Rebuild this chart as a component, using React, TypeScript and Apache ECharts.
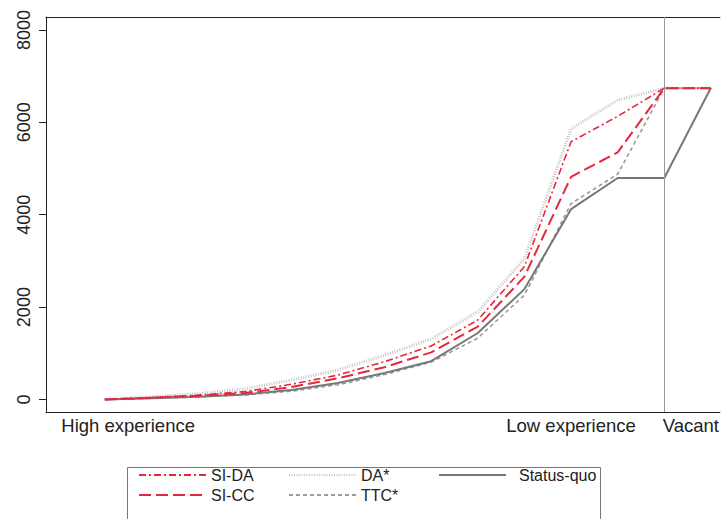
import React, { useEffect, useRef } from "react";
import * as echarts from "echarts";

const positions = [1, 2, 3, 4, 5, 6, 7, 8, 9, 10, 11, 12, 13, 14];
const siDA = [0, 45, 95, 170, 330, 530, 820, 1160, 1720, 2880, 5580, 6130, 6740, 6740];
const siCC = [0, 40, 80, 140, 270, 460, 700, 1020, 1580, 2660, 4820, 5350, 6740, 6740];
const daStar = [0, 60, 130, 230, 420, 640, 960, 1310, 1900, 3050, 5860, 6480, 6740, 6740];
const ttcStar = [0, 25, 55, 100, 180, 320, 540, 810, 1330, 2260, 4240, 4880, 6740, 6740];
const statusQuo = [0, 30, 60, 110, 205, 357, 573, 830, 1440, 2390, 4120, 4795, 4795, 6750];
const vacantLine = 13;
const xTickValues = [1.5, 11, 13.57];
const xTickLabels = ["High experience", "Low experience", "Vacant"];
const yTickValues = [0, 2000, 4000, 6000, 8000];

const FONT = "'Liberation Sans', Arial, Helvetica, sans-serif";
const RED = "#e5283a";
const X_MIN = -0.2615;
const X_MAX = 14.192;

function pairs(vals: number[]) {
  return positions.map((p, i) => [p, vals[i]]);
}

export default function App() {
  const ref = useRef<HTMLDivElement>(null);
  useEffect(() => {
    if (!ref.current) return;
    const chart = echarts.init(ref.current, null, { renderer: "svg" });
    const base = { type: "line", symbol: "none", showSymbol: false, silent: true };
    const legendCommon = {
      orient: "vertical",
      top: 462,
      itemWidth: 67,
      itemHeight: 14,
      itemGap: 4,
      itemStyle: { opacity: 0 },
      textStyle: { fontFamily: FONT, fontSize: 16, color: "#222" },
    };
    chart.setOption({
      animation: false,
      backgroundColor: "#ffffff",
      grid: {
        left: 46,
        top: 17,
        right: 0,
        height: 395,
        show: false,
      },
      xAxis: [
        {
          type: "value",
          min: X_MIN,
          max: X_MAX,
          axisLine: { show: true, onZero: false, lineStyle: { color: "#222", width: 1 } },
          axisTick: { show: false },
          splitLine: { show: false },
          axisLabel: {
            customValues: xTickValues,
            formatter: (v: number) => {
              const i = xTickValues.findIndex((t) => Math.abs(t - v) < 1e-6);
              return i >= 0 ? xTickLabels[i] : "";
            },
            fontFamily: FONT,
            fontSize: 18.5,
            color: "#222",
            margin: 4,
          },
        },
        {
          type: "value",
          position: "top",
          min: X_MIN,
          max: X_MAX,
          axisLine: { show: true, onZero: false, lineStyle: { color: "#222", width: 1 } },
          axisTick: { show: false },
          axisLabel: { show: false },
          splitLine: { show: false },
        },
      ],
      yAxis: {
        type: "value",
        min: -270,
        max: 8280,
        axisLine: { show: true, onZero: false, lineStyle: { color: "#222", width: 1 } },
        axisTick: { show: true, length: 7, customValues: yTickValues, lineStyle: { color: "#222" } },
        splitLine: { show: false },
        axisLabel: {
          customValues: yTickValues,
          formatter: (v: number) => String(v),
          rotate: 90,
          fontFamily: FONT,
          fontSize: 18,
          color: "#222",
          margin: 13,
        },
      },
      legend: [
        { ...legendCommon, left: 133, data: ["SI-DA", "SI-CC"] },
        { ...legendCommon, left: 283, data: ["DA*", "TTC*"] },
        { ...legendCommon, left: 433, textStyle: { ...legendCommon.textStyle, padding: [0, 0, 0, 8] }, data: ["Status-quo"] },
      ],
      graphic: [
        {
          type: "rect",
          left: 125,
          top: 465,
          shape: { width: 473, height: 70 },
          style: { fill: "none", stroke: "#777", lineWidth: 1 },
          silent: true,
        },
      ],
      series: [
        {
          ...base,
          name: "DA*",
          data: pairs(daStar),
          lineStyle: { color: "#c4c4c4", width: 3, type: [1, 1.5] },
          itemStyle: { color: "#c4c4c4" },
        },
        {
          ...base,
          name: "TTC*",
          data: pairs(ttcStar),
          lineStyle: { color: "#9a9a9a", width: 1.6, type: [4, 3] },
          itemStyle: { color: "#9a9a9a" },
        },
        {
          ...base,
          name: "Status-quo",
          data: pairs(statusQuo),
          lineStyle: { color: "#777777", width: 2, type: "solid" },
          itemStyle: { color: "#777777" },
          markLine: {
            silent: true,
            symbol: "none",
            label: { show: false },
            lineStyle: { color: "#999", width: 1, type: "solid" },
            data: [{ xAxis: vacantLine }],
          },
        },
        {
          ...base,
          name: "SI-CC",
          data: pairs(siCC),
          lineStyle: { color: RED, width: 2, type: [12, 5] },
          itemStyle: { color: RED },
        },
        {
          ...base,
          name: "SI-DA",
          data: pairs(siDA),
          lineStyle: { color: RED, width: 1.6, type: [7, 3, 2, 3] },
          itemStyle: { color: RED },
        },
      ],
    });
    return () => chart.dispose();
  }, []);
  return <div ref={ref} style={{ width: 722, height: 519, position: "absolute", left: 0, top: 0 }} />;
}
